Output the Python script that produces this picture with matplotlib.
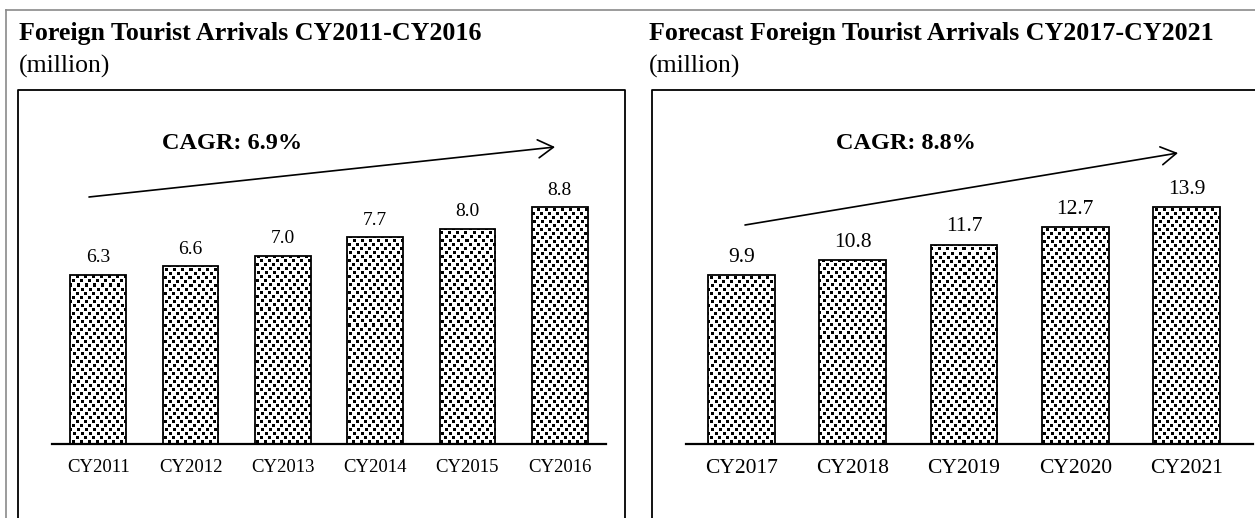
import numpy as np
import matplotlib
matplotlib.use("Agg")
import matplotlib.pyplot as plt
from matplotlib.lines import Line2D
from matplotlib.patches import FancyArrowPatch, ArrowStyle

plt.rcParams['font.family'] = ['Liberation Serif', 'DejaVu Serif']

# --- data ---
hist_years = ["CY2011", "CY2012", "CY2013", "CY2014", "CY2015", "CY2016"]
hist_values = [6.3, 6.6, 7.0, 7.7, 8.0, 8.8]
fcst_years = ["CY2017", "CY2018", "CY2019", "CY2020", "CY2021"]
fcst_values = [9.9, 10.8, 11.7, 12.7, 13.9]

hist_title = "Foreign Tourist Arrivals CY2011-CY2016"
fcst_title = "Forecast Foreign Tourist Arrivals CY2017-CY2021"
unit_text = "(million)"
hist_cagr = "CAGR: 6.9%"
fcst_cagr = "CAGR: 8.8%"

W, H = 1255, 518
fig = plt.figure(figsize=(W / 100, H / 100), dpi=100)


def fx(x):
    return x / W


def fy(y):
    return 1 - y / H


# confetti-like fill tile (black squares on white)
T = 16
TILE = np.ones((T, T))
for r, c in [(0, 0), (0, 8), (4, 4), (4, 12), (8, 1), (8, 9), (12, 5), (12, 13)]:
    for dr in range(3):
        for dc in range(3):
            TILE[(r + dr) % T, (c + dc) % T] = 0.0


def pattern_fill(ax, bars):
    fig.canvas.draw()
    bb = ax.get_window_extent()
    nx, ny = int(round(bb.width)), int(round(bb.height))
    img = np.tile(TILE, (ny // T + 1, nx // T + 1))[:ny, :nx]
    x0, x1 = ax.get_xlim()
    y0, y1 = ax.get_ylim()
    for b in bars:
        im = ax.imshow(img, cmap="gray", vmin=0, vmax=1, extent=(x0, x1, y0, y1),
                       origin="upper", aspect="auto", interpolation="nearest",
                       zorder=2)
        im.set_clip_path(b)
    ax.set_xlim(x0, x1)
    ax.set_ylim(y0, y1)


def panel(left, right, base, top, ymax, years, values, tick_fs, val_fs, ext):
    ax = fig.add_axes([fx(left), fy(base), fx(right - left), (base - top) / H])
    ax.set_facecolor("none")
    x = np.arange(len(years))
    bars = ax.bar(x, values, width=0.6, facecolor="none", edgecolor="black",
                  linewidth=1.3, zorder=3)
    ax.set_xlim(-0.5, len(years) - 0.5)
    ax.set_ylim(0, ymax)
    for s in ax.spines.values():
        s.set_visible(False)
    ax.axhline(0, xmin=0, xmax=ext, color="black", linewidth=1.6,
               clip_on=False, zorder=4)
    ax.set_yticks([])
    ax.set_xticks(x, years)
    ax.tick_params(axis="x", length=0, pad=11, labelsize=tick_fs)
    ax.bar_label(bars, labels=[f"{v:.1f}" for v in values], padding=6,
                 fontsize=val_fs)
    pattern_fill(ax, bars)
    return ax


ax1 = panel(52, 606, 444, 100, 344 / 26.9, hist_years, hist_values, 13.5, 14, 1.0)
ax2 = panel(686, 1242, 444, 100, 344 / 17.05, fcst_years, fcst_values, 15.5, 15.5, 1.02)

# outer grey frame
fig.add_artist(Line2D([fx(6), fx(W)], [fy(10), fy(10)], color="#8a8a8a", lw=1.2))
fig.add_artist(Line2D([fx(6), fx(6)], [fy(10), fy(H)], color="#8a8a8a", lw=1.2))

# panel boxes (open at the bottom)
for l, r in [(18, 625), (652, W + 5)]:
    fig.add_artist(Line2D([fx(l), fx(l), fx(r), fx(r)],
                          [fy(H + 5), fy(90), fy(90), fy(H + 5)],
                          color="black", lw=1.3))

# titles
for xpos, title in [(19, hist_title), (649, fcst_title)]:
    fig.text(fx(xpos), fy(40), title, fontsize=18.7, fontweight="bold",
             ha="left", va="baseline")
    fig.text(fx(xpos), fy(73), unit_text, fontsize=18.5, ha="left", va="baseline")

# CAGR labels and arrows
fig.text(fx(232), fy(149), hist_cagr, fontsize=17.5, fontweight="bold",
         ha="center", va="baseline")
fig.text(fx(906), fy(149), fcst_cagr, fontsize=17.5, fontweight="bold",
         ha="center", va="baseline")

style = ArrowStyle("->", head_length=1.1, head_width=0.65)
for p0, p1 in [((89, 197), (555, 147)), ((745, 225), (1178, 153))]:
    fig.add_artist(FancyArrowPatch((fx(p0[0]), fy(p0[1])), (fx(p1[0]), fy(p1[1])),
                                   transform=fig.transFigure, arrowstyle=style,
                                   mutation_scale=10, lw=1.2, color="black",
                                   shrinkA=0, shrinkB=0))

fig.savefig("out.png", dpi=100)
